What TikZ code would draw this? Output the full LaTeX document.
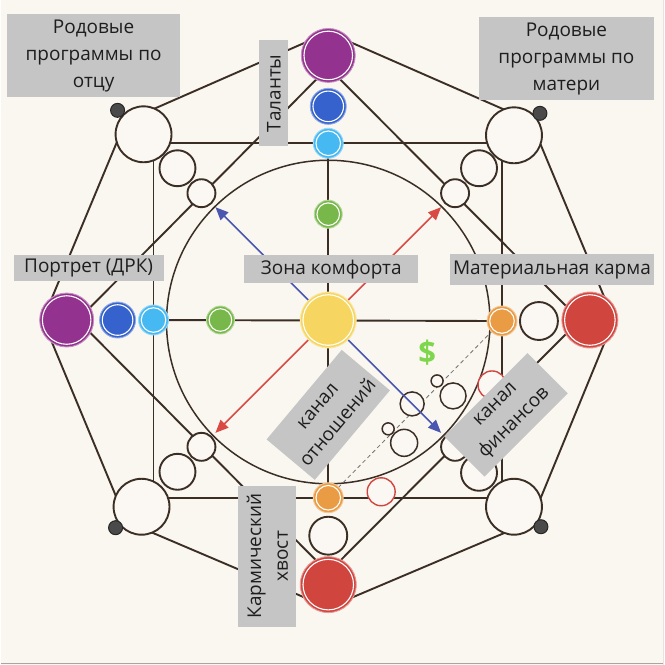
\documentclass[tikz,border=0pt]{standalone}
\usepackage{fontspec}
\setmainfont{Open Sans}
\usetikzlibrary{arrows.meta}
\definecolor{bgc}{HTML}{FAF6F0}
\definecolor{wfill}{HTML}{FBF8F4}
\definecolor{linec}{HTML}{3B2F25}
\definecolor{purp}{HTML}{93338F}
\definecolor{blu}{HTML}{3562CC}
\definecolor{lblu}{HTML}{46B9F2}
\definecolor{grn}{HTML}{78B84A}
\definecolor{yel}{HTML}{F6D660}
\definecolor{org}{HTML}{EA9C45}
\definecolor{redc}{HTML}{D1453F}
\definecolor{labg}{HTML}{C5C5C5}
\definecolor{txtc}{HTML}{1E1E1E}
\definecolor{dotc}{HTML}{4A4A4A}
\definecolor{arrblue}{HTML}{4B56B0}
\definecolor{arrred}{HTML}{D94A45}
\definecolor{dolg}{HTML}{7DD64C}
\pgfdeclarelayer{bglayer}
\pgfdeclarelayer{linelayer}
\pgfsetlayers{bglayer,linelayer,main}
\newcommand\colball[4]{%
  \node[ball, fill=#4, draw=#4!55!white, minimum size=2*#3pt] (#1) at (#2) {};
  \draw[white, line width=1.1pt] (#1.center) circle[radius=#3pt-2.7pt];}
\begin{document}
\begin{tikzpicture}[x=1pt,y=-1pt,
  ball/.style={circle, inner sep=0pt, line width=0.9pt},
  wball/.style={circle, inner sep=0pt, draw=linec, fill=wfill, line width=1.9pt},
  sball/.style={circle, inner sep=0pt, draw=linec, fill=wfill, line width=1.5pt},
  rball/.style={circle, inner sep=0pt, draw=redc, fill=wfill, line width=1.4pt},
  blackdot/.style={circle, inner sep=0pt, minimum size=14pt, fill=dotc, draw=black!85, line width=1pt},
  ln/.style={draw=linec, line width=1.9pt},
  dashln/.style={draw=black!55, line width=0.8pt, dash pattern=on 4pt off 3pt},
  lab/.style={fill=labg, text=txtc, inner sep=0pt, align=center, font=\fontsize{19}{26.7}\selectfont},
  arrB/.style={draw=arrblue, line width=1.5pt, -{Triangle[length=13pt,width=11pt]}},
  arrR/.style={draw=arrred, line width=1.5pt, -{Triangle[length=13pt,width=11pt]}}]
\begin{pgfonlayer}{bglayer}
\fill[bgc] (0,0) rectangle (664,665);
\draw[black!35, line width=1.5pt] (0,664) -- (664,664);
\draw[black!10, line width=1pt] (663.5,0) -- (663.5,665);
\end{pgfonlayer}
\useasboundingbox (0,0) rectangle (664,665);

% octagon and diamond vertices
\coordinate (oT) at (328,32);
\coordinate (oTR) at (531,121);
\coordinate (oR) at (614,320);
\coordinate (oBR) at (531,522);
\coordinate (oB) at (328,608);
\coordinate (oBL) at (126,522);
\coordinate (oL) at (42,320);
\coordinate (oTL) at (125,121);
\coordinate (dT) at (328,67);
\coordinate (dR) at (580,320);
\coordinate (dB) at (328,573);
\coordinate (dL) at (77,320);
\coordinate (cc) at (328,322);

% coloured balls
\colball{TP}{328,55}{27}{purp}
\colball{TB}{328,106}{18}{blu}
\colball{LBt}{328,143}{15}{lblu}
\colball{TG}{328,214}{14}{grn}
\colball{LP}{66,320}{27}{purp}
\colball{LB}{117,320}{18}{blu}
\colball{LBl}{153,320}{15}{lblu}
\colball{LG}{220,320}{14}{grn}
\colball{Y}{328,320}{28}{yel}
\colball{RO}{502,321}{15}{org}
\colball{RR}{590,320}{28}{redc}
\colball{BO}{328,498}{15}{org}
\colball{BR}{328,585}{28}{redc}

% white balls
\node[wball, minimum size=38pt] (RW) at (539,321) {};
\node[wball, minimum size=38pt] (BW) at (328,536) {};
\node[wball, minimum size=56pt] (TL) at (143,134) {};
\node[wball, minimum size=36pt] (TLm) at (177,168) {};
\node[wball, minimum size=28pt] (TLs) at (201,193) {};
\node[wball, minimum size=56pt] (TR) at (514,135) {};
\node[wball, minimum size=36pt] (TRm) at (479,168) {};
\node[wball, minimum size=28pt] (TRs) at (455,193) {};
\node[wball, minimum size=56pt] (BL) at (141,507) {};
\node[wball, minimum size=36pt] (BLm) at (177,472) {};
\node[wball, minimum size=28pt] (BLs) at (201,447) {};
\node[wball, minimum size=56pt] (BRc) at (514,507) {};
\node[wball, minimum size=36pt] (BRm) at (479,473) {};
\node[wball, minimum size=28pt] (BRs) at (455,447) {};
\node[blackdot] (dTL) at (117,110) {};
\node[blackdot] (dTR) at (540,113) {};
\node[blackdot] (dBL) at (115,528) {};
\node[blackdot] (dBR) at (541,527) {};

% small circles in the finance area
\node[sball, minimum size=24pt] (c1) at (412,404) {};
\node[sball, minimum size=12pt] (c2) at (437,381) {};
\node[sball, minimum size=26pt] (c3) at (453,396) {};
\node[sball, minimum size=12pt] (c4) at (388,429) {};
\node[sball, minimum size=27pt] (c5) at (404,443) {};
\node[rball, minimum size=28pt] (rc1) at (381,492) {};
\node[rball, minimum size=28pt] (rc2) at (492,385) {};

\begin{pgfonlayer}{linelayer}
\draw[ln] (oT) -- (oTR) -- (oR) -- (oBR) -- (oB) -- (oBL) -- (oL) -- (oTL) -- cycle;
\draw[ln] (dT) -- (dR) -- (dB) -- (dL) -- cycle;
\draw[ln] (TL.center |- LBt.center) -- (TR.center |- LBt.center);
\draw[ln] (LBl.center |- TL.center) -- (LBl.center |- BL.center);
\draw[ln] (RO.center |- TR.center) -- (RO.center |- BRc.center);
\draw[ln] (BO.center -| BL.center) -- (BO.center -| BRc.center);
\draw[ln] (LBl.center) -- (RO.center);
\draw[ln] (LBt.center) -- (BO.center);
\draw[draw=linec, line width=1.5pt] (cc) circle[radius=162pt];
\draw[dashln] (BO.center) -- (RO.center);
\end{pgfonlayer}

% arrows
\coordinate (aUL) at (215,207);
\coordinate (aUR) at (441,207);
\coordinate (aLL) at (215,433);
\coordinate (aLR) at (441,433);
\draw[arrB] (Y) -- (aUL);
\draw[arrR] (Y) -- (aUR);
\draw[arrR] (Y) -- (aLL);
\draw[arrB] (Y) -- (aLR);

\node[text=dolg, font=\fontsize{31}{31}\selectfont\bfseries] (dol) at (427,353) {\$};

% labels
\node[lab, minimum width=174pt, minimum height=83pt] (L1) at (93,55.5) {Родовые\\программы по\\отцу};
\node[lab, minimum width=175pt, minimum height=83pt] (L2) at (566.5,58.5) {Родовые\\программы по\\матери};
\node[lab, rotate=90, minimum width=106pt, minimum height=29pt] (L3) at (273.5,93) {Таланты};
\node[lab, minimum width=150pt, minimum height=26pt] (L4) at (88,268) {Портрет (ДРК)};
\node[lab, minimum width=174pt, minimum height=28pt] (L5) at (331,269) {Зона комфорта};
\node[lab, minimum width=204pt, minimum height=31pt] (L6) at (552,269.5) {Материальная карма};
\node[lab, rotate=90, minimum width=141pt, minimum height=58pt] (L7) at (267,556.5) {Кармический\\хвост};
\node[lab, rotate=50, minimum width=117pt, minimum height=63pt] (L8) at (328,415) {канал\\отношений};
\node[lab, rotate=45, minimum width=118pt, minimum height=57pt] (L9) at (506,415) {канал\\финансов};
\end{tikzpicture}
\end{document}
